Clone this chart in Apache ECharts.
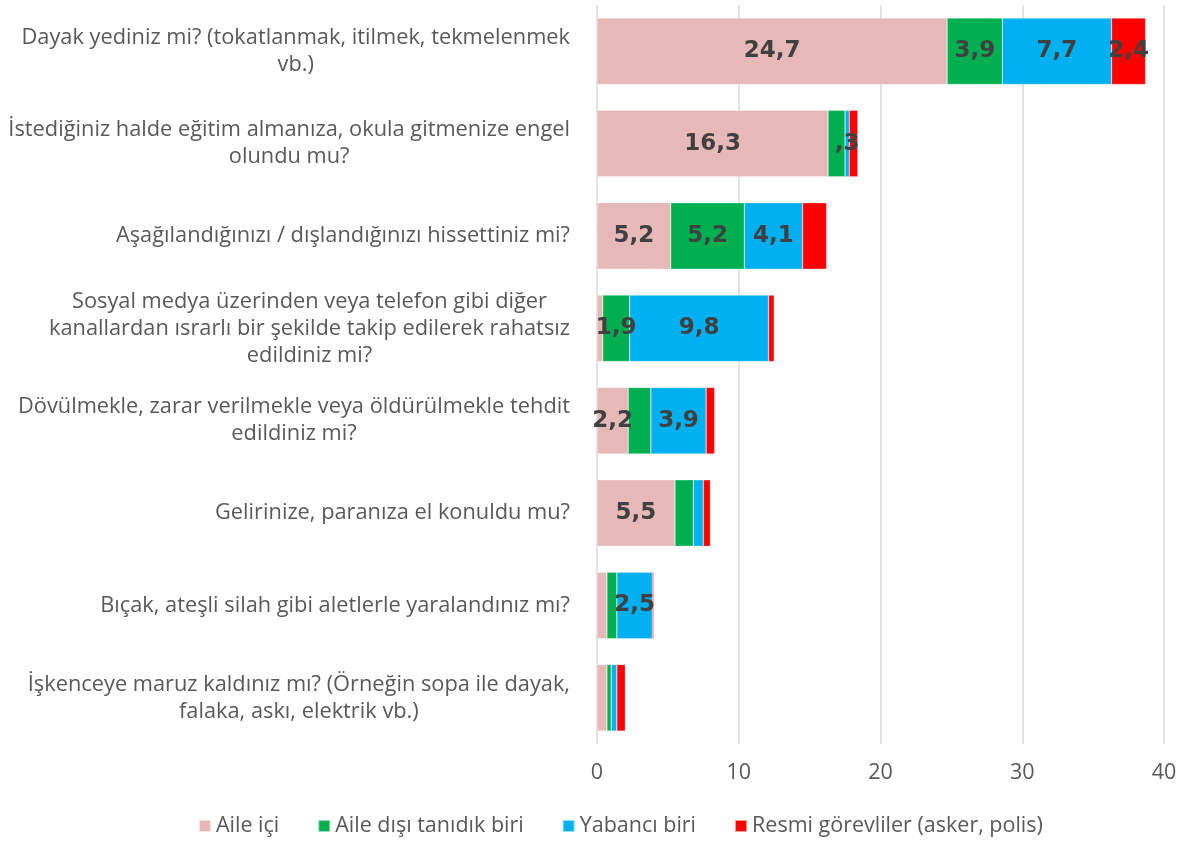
<!DOCTYPE html>
<html><head><meta charset="utf-8">
<script src="https://cdn.jsdelivr.net/npm/echarts@6/dist/echarts.min.js"></script>
<style>html,body{margin:0;padding:0;background:#fff}#c{width:1188px;height:841px}</style>
</head><body><div id="c"></div>
<script>
const categories = [
  "Dayak yediniz mi? (tokatlanmak, itilmek, tekmelenmek\nvb.)",
  "İstediğiniz halde eğitim almanıza, okula gitmenize engel\nolundu mu?",
  "Aşağılandığınızı / dışlandığınızı hissettiniz mi?",
  "Sosyal medya üzerinden veya telefon gibi diğer\nkanallardan ısrarlı bir şekilde takip edilerek rahatsız\nedildiniz mi?",
  "Dövülmekle, zarar verilmekle veya öldürülmekle tehdit\nedildiniz mi?",
  "Gelirinize, paranıza el konuldu mu?",
  "Bıçak, ateşli silah gibi aletlerle yaralandınız mı?",
  "İşkenceye maruz kaldınız mı? (Örneğin sopa ile dayak,\nfalaka, askı, elektrik vb.)"
];
const seriesNames = ["Aile içi", "Aile dışı tanıdık biri", "Yabancı biri", "Resmi görevliler (asker, polis)"];
const aileIci   = [24.7, 16.3, 5.2, 0.4, 2.2, 5.5, 0.7, 0.7];
const aileDisi  = [3.9, 1.2, 5.2, 1.9, 1.6, 1.3, 0.7, 0.3];
const yabanci   = [7.7, 0.3, 4.1, 9.8, 3.9, 0.7, 2.5, 0.4];
const resmi     = [2.4, 0.6, 1.7, 0.4, 0.6, 0.5, 0.1, 0.6];
// indices of bars whose value label is shown, per series
const labelled = [[0,1,2,4,5],[0,2,3],[0,1,2,3,4,6],[0]];
const xTicks = [0, 10, 20, 30, 40];
const colors = ["#E6B8B7", "#00B050", "#00B0F0", "#FF0000"];

const FONT = "Open Sans";
const fmt = v => v.toFixed(1).replace('.', ',').replace(/^0,/, ',');
const allData = [aileIci, aileDisi, yabanci, resmi];

const chart = echarts.init(document.getElementById('c'), null, {renderer: 'canvas'});
chart.setOption({
  animation: false,
  textStyle: {fontFamily: FONT},
  grid: {left: 597, right: 24, top: 5, bottom: 97, containLabel: false},
  legend: {
    bottom: -1, left: 193, icon: 'rect', itemWidth: 12, itemHeight: 12, itemGap: 38,
    textStyle: {fontFamily: FONT, fontSize: 21.5, color: '#595959'},
    data: seriesNames
  },
  xAxis: {
    type: 'value', min: xTicks[0], max: xTicks[xTicks.length-1], interval: 10,
    axisLine: {show: false}, axisTick: {show: false},
    splitLine: {show: true, lineStyle: {color: '#d9d9d9', width: 1.5}},
    axisLabel: {fontFamily: FONT, fontSize: 21.5, color: '#595959', margin: 18}
  },
  yAxis: {
    type: 'category', data: categories, inverse: true,
    axisLine: {show: false}, axisTick: {show: false},
    axisLabel: {
      margin: 27, align: 'right',
      formatter: v => v.split('\n').map(l => '{c|' + l + '}').join('\n'),
      rich: {c: {align: 'center', fontFamily: FONT, fontSize: 21.8, color: '#595959', lineHeight: 27}}
    }
  },
  series: allData.map((d, si) => ({
    name: seriesNames[si], type: 'bar', stack: 'total', barCategoryGap: '28%',
    itemStyle: {color: colors[si], borderColor: 'rgba(255,255,255,0.6)', borderWidth: 0.5},
    data: d.map((v, i) => ({
      value: v,
      label: {show: labelled[si].includes(i)}
    })),
    label: {
      position: 'inside', formatter: p => fmt(p.value),
      fontFamily: 'DejaVu Sans', fontWeight: 'bold', fontSize: 23, color: '#404040'
    }
  }))
});
</script></body></html>
